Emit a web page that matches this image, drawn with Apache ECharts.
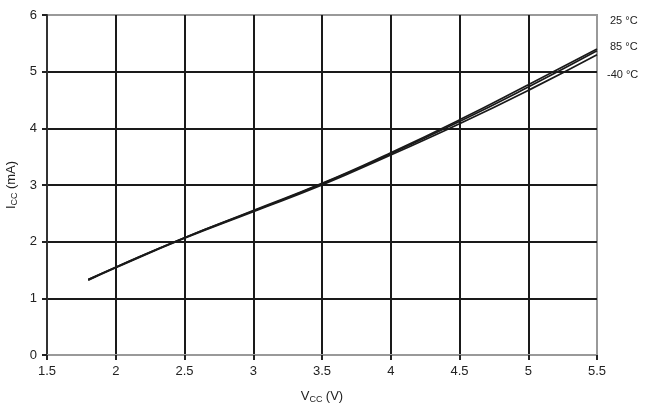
<!DOCTYPE html>
<html>
<head>
<meta charset="utf-8">
<script src="https://cdn.jsdelivr.net/npm/echarts@6/dist/echarts.min.js"></script>
<style>
  html, body { margin: 0; padding: 0; background: #fff; }
  #chart { width: 647px; height: 410px; }
</style>
</head>
<body>
<div id="chart"></div>
<script>
// supply voltage (V)
var vcc = [1.8, 2, 2.5, 3, 3.5, 4, 4.5, 5, 5.5];
// supply current (mA) per temperature
var icc25 = [1.33, 1.55, 2.07, 2.55, 3.03, 3.57, 4.15, 4.77, 5.40];
var icc85 = [1.33, 1.55, 2.07, 2.54, 3.02, 3.55, 4.12, 4.73, 5.37];
var iccM40 = [1.32, 1.54, 2.06, 2.53, 3.00, 3.53, 4.08, 4.67, 5.30];
var tempLabels = ['25 °C', '85 °C', '-40 °C'];

var myChart = echarts.init(document.getElementById('chart'));

function pairs(ys) {
	var out = [];
	for (var i = 0; i < vcc.length; i++) {
		out.push([vcc[i], ys[i]]);
	}
	return out;
}

var lineStyle = { color: '#1a1a1a', width: 1.7 };
var font = 'Liberation Sans, Arial, sans-serif';

var option = {
	animation: false,
	grid: {
		left: 47, right: 50, top: 15, bottom: 55,
		outerBoundsMode: 'none',
		show: true, borderColor: '#999', borderWidth: 2
	},
	xAxis: {
		type: 'value',
		min: 1.5, max: 5.5, interval: 0.5,
		name: '{m|V}{s|CC} {m|(V)}',
		nameLocation: 'middle',
		nameGap: 34,
		nameTextStyle: {
			rich: {
				m: { fontSize: 13, color: '#222', fontFamily: font },
				s: { fontSize: 9, color: '#222', fontFamily: font, verticalAlign: 'bottom', padding: [6, 0, 0, 0] }
			}
		},
		axisLine: { lineStyle: { color: '#999', width: 2 } },
		axisTick: { length: 5, lineStyle: { color: '#222', width: 2 } },
		axisLabel: { color: '#222', fontSize: 13, fontFamily: font, margin: 10 },
		splitLine: { showMinLine: false, showMaxLine: false, lineStyle: { color: '#1a1a1a', width: 2 } }
	},
	yAxis: {
		type: 'value',
		min: 0, max: 6, interval: 1,
		name: '{m|I}{s|CC} {m|(mA)}',
		nameLocation: 'middle',
		nameGap: 25,
		nameTextStyle: {
			rich: {
				m: { fontSize: 13, color: '#222', fontFamily: font },
				s: { fontSize: 9, color: '#222', fontFamily: font, verticalAlign: 'bottom', padding: [6, 0, 0, 0] }
			}
		},
		axisLine: { show: true, lineStyle: { color: '#333', width: 2 } },
		axisTick: { show: true, length: 5, lineStyle: { color: '#222', width: 2 } },
		axisLabel: { color: '#222', fontSize: 13, fontFamily: font, margin: 10 },
		splitLine: { showMinLine: false, showMaxLine: false, lineStyle: { color: '#1a1a1a', width: 2 } }
	},
	graphic: [
		{ type: 'text', left: 610, top: 15, style: { text: tempLabels[0], fontSize: 11, fill: '#222', fontFamily: font } },
		{ type: 'text', left: 610, top: 41, style: { text: tempLabels[1], fontSize: 11, fill: '#222', fontFamily: font } },
		{ type: 'text', left: 607, top: 69, style: { text: tempLabels[2], fontSize: 11, fill: '#222', fontFamily: font } }
	],
	series: [
		{ name: tempLabels[0], type: 'line', smooth: true, symbol: 'none', data: pairs(icc25), lineStyle: lineStyle },
		{ name: tempLabels[1], type: 'line', smooth: true, symbol: 'none', data: pairs(icc85), lineStyle: lineStyle },
		{ name: tempLabels[2], type: 'line', smooth: true, symbol: 'none', data: pairs(iccM40), lineStyle: lineStyle }
	]
};

myChart.setOption(option);
</script>
</body>
</html>
